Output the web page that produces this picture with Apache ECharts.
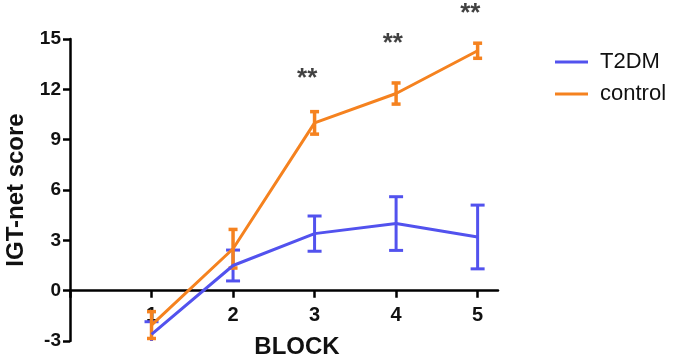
<!DOCTYPE html>
<html>
<head>
<meta charset="utf-8">
<style>
  html, body { margin: 0; padding: 0; background: #fff; }
  #chart { width: 675px; height: 359px; }
</style>
<script src="https://cdn.jsdelivr.net/npm/echarts@6/dist/echarts.min.js"></script>
</head>
<body>
<div id="chart"></div>
<script>
  // block numbers on the x axis
  var blocks = [1, 2, 3, 4, 5];
  // mean IGT-net score and error (SEM) per block
  var t2dmMean = [-2.6, 1.5, 3.4, 4.0, 3.2];
  var t2dmErr = [0.75, 0.92, 1.05, 1.6, 1.9];
  var controlMean = [-2.05, 2.5, 10.0, 11.75, 14.3];
  var controlErr = [0.8, 1.15, 0.67, 0.63, 0.45];
  // significance marks (x, y in data units)
  var starX = [2.91, 3.96, 4.91];
  var starY = [12.6, 14.7, 16.5];
  var yTicks = [-3, 0, 3, 6, 9, 12, 15];

  var blue = '#5252ee';
  var orange = '#f5821f';

  function pairs(xs, ys) {
    return xs.map(function (x, i) { return [x, ys[i]]; });
  }

  function errRows(xs, mean, err) {
    return xs.map(function (x, i) { return [x, mean[i] - err[i], mean[i] + err[i]]; });
  }

  // draws a vertical error bar with caps
  function errorBar(capHalf, width, color) {
    return function (params, api) {
      var x = api.value(0);
      var lo = api.coord([x, api.value(1)]);
      var hi = api.coord([x, api.value(2)]);
      var st = { stroke: color, lineWidth: width };
      return {
        type: 'group',
        children: [
          { type: 'line', shape: { x1: lo[0], y1: lo[1], x2: hi[0], y2: hi[1] }, style: st },
          { type: 'line', shape: { x1: hi[0] - capHalf, y1: hi[1], x2: hi[0] + capHalf, y2: hi[1] }, style: st },
          { type: 'line', shape: { x1: lo[0] - capHalf, y1: lo[1], x2: lo[0] + capHalf, y2: lo[1] }, style: st }
        ]
      };
    };
  }

  var chart = echarts.init(document.getElementById('chart'));
  var font = 'Liberation Sans, Arial, sans-serif';

  chart.setOption({
    animation: false,
    textStyle: { fontFamily: font },
    grid: { left: 70, right: 177, top: 39, bottom: 18, containLabel: false, outerBoundsMode: 'none' },
    legend: {
      orient: 'vertical',
      left: 550,
      top: 46,
      itemWidth: 33,
      itemHeight: 3,
      itemGap: 10,
      data: [{ name: 'T2DM', icon: 'rect' }, { name: 'control', icon: 'rect' }],
      textStyle: { fontSize: 22, color: '#111', fontFamily: font, padding: [0, 0, 0, 7] }
    },
    graphic: [{
      type: 'text',
      x: 297,
      y: 347,
      style: {
        text: 'BLOCK',
        font: 'bold 24px ' + font,
        fill: '#111',
        textAlign: 'center',
        textVerticalAlign: 'middle'
      }
    }],
    xAxis: {
      type: 'value',
      min: 0,
      max: 5.25,
      interval: 1,
      splitLine: { show: false },
      axisLine: { onZero: true, lineStyle: { color: '#000', width: 2.5 } },
      axisTick: { length: 7, lineStyle: { color: '#000', width: 2.5 } },
      axisLabel: {
        // labels sit at the grid bottom in v6, pull them up under the zero line
        margin: -36,
        fontSize: 20,
        fontWeight: 'bold',
        color: '#111',
        formatter: function (v) { return v === 0 ? '' : String(v); }
      }
    },
    yAxis: {
      type: 'value',
      min: yTicks[0],
      max: yTicks[yTicks.length - 1],
      interval: 3,
      name: 'IGT-net score',
      nameLocation: 'middle',
      nameGap: 42,
      nameTextStyle: { fontSize: 24, fontWeight: 'bold', color: '#111' },
      splitLine: { show: false },
      axisLine: { lineStyle: { color: '#000', width: 2.5 } },
      axisTick: { length: 7, lineStyle: { color: '#000', width: 2.5 } },
      axisLabel: { margin: 9, fontSize: 19, fontWeight: 'bold', color: '#111' }
    },
    series: [
      {
        name: 'T2DM',
        type: 'line',
        symbol: 'none',
        data: pairs(blocks, t2dmMean),
        lineStyle: { color: blue, width: 3 },
        itemStyle: { color: blue }
      },
      {
        name: 'T2DM err',
        type: 'custom',
        clip: true,
        renderItem: errorBar(7, 3, blue),
        encode: { x: 0, y: [1, 2] },
        data: errRows(blocks, t2dmMean, t2dmErr)
      },
      {
        name: 'control',
        type: 'line',
        symbol: 'none',
        data: pairs(blocks, controlMean),
        lineStyle: { color: orange, width: 3 },
        itemStyle: { color: orange }
      },
      {
        name: 'control err',
        type: 'custom',
        clip: true,
        renderItem: errorBar(4.5, 3.5, orange),
        encode: { x: 0, y: [1, 2] },
        data: errRows(blocks, controlMean, controlErr)
      },
      {
        name: 'sig',
        type: 'scatter',
        clip: false,
        symbolSize: 0,
        silent: true,
        data: pairs(starX, starY),
        label: {
          show: true,
          position: 'inside',
          formatter: '**',
          fontSize: 26,
          fontWeight: 'bold',
          color: '#111'
        }
      }
    ]
  });
</script>
</body>
</html>
